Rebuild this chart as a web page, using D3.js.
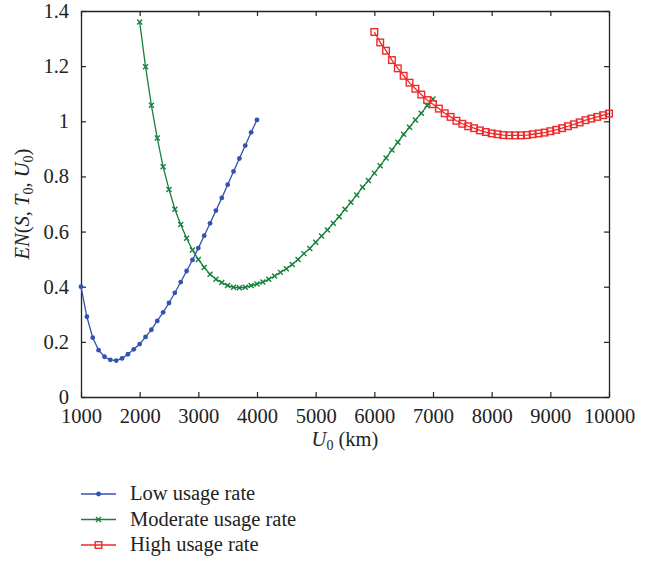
<!DOCTYPE html>
<html lang="en">
<head>
<meta charset="utf-8">
<title>EN chart</title>
<script src="https://cdn.jsdelivr.net/npm/d3@7"></script>
<style>
  body { margin: 0; background: #fff; }
  text { font-family: "Liberation Serif", "DejaVu Serif", serif; fill: #222; }
</style>
</head>
<body>
<script>
// values
var lowX = [1000, 1100, 1200, 1300, 1400, 1500, 1600, 1700, 1800, 1900, 2000, 2100, 2200, 2300, 2400, 2500,
            2600, 2700, 2800, 2900, 3000, 3100, 3200, 3300, 3400, 3500, 3600, 3700, 3800, 3900, 4000];
var lowY = [0.400, 0.291, 0.215, 0.170, 0.146, 0.135, 0.132, 0.140, 0.155, 0.173, 0.192, 0.218, 0.244, 0.276,
            0.307, 0.341, 0.378, 0.417, 0.457, 0.497, 0.540, 0.585, 0.630, 0.676, 0.722, 0.770, 0.818, 0.865,
            0.912, 0.960, 1.005];

var modX = [2000, 2100, 2200, 2300, 2400, 2500, 2600, 2700, 2800, 2900, 3000, 3100, 3200, 3300, 3400, 3500,
            3600, 3700, 3800, 3900, 4000, 4100, 4200, 4300, 4400, 4500, 4600, 4700, 4800, 4900, 5000, 5100,
            5200, 5300, 5400, 5500, 5600, 5700, 5800, 5900, 6000, 6100, 6200, 6300, 6400, 6500, 6600, 6700,
            6800, 6900, 7000];
var modY = [1.360, 1.198, 1.058, 0.939, 0.835, 0.753, 0.681, 0.626, 0.576, 0.533, 0.499, 0.470, 0.445, 0.427,
            0.415, 0.404, 0.398, 0.396, 0.398, 0.404, 0.410, 0.417, 0.427, 0.439, 0.452, 0.465, 0.481, 0.499,
            0.520, 0.539, 0.561, 0.584, 0.606, 0.630, 0.654, 0.681, 0.706, 0.733, 0.761, 0.785, 0.812, 0.839,
            0.867, 0.896, 0.924, 0.953, 0.978, 1.005, 1.029, 1.057, 1.081];

var highX = [6000, 6100, 6200, 6300, 6400, 6500, 6600, 6700, 6800, 6900, 7000, 7100, 7200, 7300, 7400, 7500,
             7600, 7700, 7800, 7900, 8000, 8100, 8200, 8300, 8400, 8500, 8600, 8700, 8800, 8900, 9000, 9100,
             9200, 9300, 9400, 9500, 9600, 9700, 9800, 9900, 10000];
var highY = [1.324, 1.286, 1.256, 1.222, 1.192, 1.165, 1.140, 1.118, 1.097, 1.077, 1.062, 1.046, 1.029, 1.016,
             1.002, 0.991, 0.982, 0.975, 0.967, 0.961, 0.956, 0.953, 0.950, 0.949, 0.949, 0.949, 0.950, 0.953,
             0.956, 0.959, 0.964, 0.969, 0.975, 0.982, 0.989, 0.996, 1.004, 1.010, 1.016, 1.022, 1.028];

var xTicks = [1000, 2000, 3000, 4000, 5000, 6000, 7000, 8000, 9000, 10000];
var yTicks = [0, 0.2, 0.4, 0.6, 0.8, 1, 1.2, 1.4];
var seriesNames = ["Low usage rate", "Moderate usage rate", "High usage rate"];

var w = 647, h = 563;
var padL = 81, padR = 609, padT = 11, padB = 397;
var fontSize = "20.5px";

var svg = d3.select("body").append("svg")
  .attr("width", w)
  .attr("height", h);

var xScale = d3.scaleLinear().domain([1000, 10000]).range([padL, padR]);
var yScale = d3.scaleLinear().domain([0, 1.4]).range([padB, padT]);

// axes, ticks pointing inwards on all four sides
var fmtY = function(d) { return d == 0 || d == 1 ? String(d) : d3.format(".1f")(d); };

var gB = svg.append("g").attr("transform", "translate(0," + padB + ")")
  .call(d3.axisBottom(xScale).tickValues(xTicks).tickFormat(d3.format("d")).tickSizeInner(-5).tickSizeOuter(0).tickPadding(11));
var gL = svg.append("g").attr("transform", "translate(" + padL + ",0)")
  .call(d3.axisLeft(yScale).tickValues(yTicks).tickFormat(fmtY).tickSizeInner(-5).tickSizeOuter(0).tickPadding(12));
var gT = svg.append("g").attr("transform", "translate(0," + padT + ")")
  .call(d3.axisTop(xScale).tickValues(xTicks).tickSizeInner(-5).tickSizeOuter(0).tickFormat(""));
var gR = svg.append("g").attr("transform", "translate(" + padR + ",0)")
  .call(d3.axisRight(yScale).tickValues(yTicks).tickSizeInner(-5).tickSizeOuter(0).tickFormat(""));

[gB, gL, gT, gR].forEach(function(g) {
  g.selectAll("path").attr("stroke", "#222").attr("stroke-width", 1.3);
  g.selectAll("line").attr("stroke", "#222").attr("stroke-width", 1.2);
  g.selectAll("text").style("font-family", "'Liberation Serif', serif").style("font-size", fontSize).attr("fill", "#222");
});

// axis titles
var yl = svg.append("text")
  .attr("transform", "translate(29,204) rotate(-90)")
  .attr("text-anchor", "middle")
  .style("font-size", fontSize);
yl.append("tspan").style("font-style", "italic").text("EN");
yl.append("tspan").text("(");
yl.append("tspan").style("font-style", "italic").text("S");
yl.append("tspan").text(", ");
yl.append("tspan").style("font-style", "italic").text("T");
yl.append("tspan").attr("dy", 4).style("font-size", "14px").text("0");
yl.append("tspan").attr("dy", -4).text(", ");
yl.append("tspan").style("font-style", "italic").text("U");
yl.append("tspan").attr("dy", 4).style("font-size", "14px").text("0");
yl.append("tspan").attr("dy", -4).text(")");

var xl = svg.append("text")
  .attr("x", 345)
  .attr("y", 446)
  .attr("text-anchor", "middle")
  .style("font-size", fontSize);
xl.append("tspan").style("font-style", "italic").text("U");
xl.append("tspan").attr("dy", 4).style("font-size", "14px").text("0");
xl.append("tspan").attr("dy", -4).text(" (km)");

// series
var colors = ["#3352ad", "#17803c", "#ee2a2a"];
var allSeries = [
  { x: lowX, y: lowY, color: colors[0], marker: "dot" },
  { x: modX, y: modY, color: colors[1], marker: "cross" },
  { x: highX, y: highY, color: colors[2], marker: "square" }
];

var line = d3.line()
  .x(function(d) { return xScale(d[0]); })
  .y(function(d) { return yScale(d[1]); });

function drawMarker(g, kind, color) {
  if (kind == "dot") {
    g.append("circle").attr("r", 2.4).attr("fill", color);
  } else if (kind == "cross") {
    g.append("path").attr("d", "M-2.5,-2.5L2.5,2.5M-2.5,2.5L2.5,-2.5")
      .attr("stroke", color).attr("stroke-width", 1.4).attr("fill", "none");
  } else {
    g.append("rect").attr("x", -3.3).attr("y", -3.3).attr("width", 6.6).attr("height", 6.6)
      .attr("fill", "none").attr("stroke", color).attr("stroke-width", 1.4);
  }
}

allSeries.forEach(function(s) {
  var pts = s.x.map(function(v, i) { return [v, s.y[i]]; });
  svg.append("path")
    .datum(pts)
    .attr("d", line)
    .attr("fill", "none")
    .attr("stroke", s.color)
    .attr("stroke-width", 1.3);
  svg.append("g").selectAll("g")
    .data(pts)
    .enter()
    .append("g")
    .attr("transform", function(d) { return "translate(" + xScale(d[0]) + "," + yScale(d[1]) + ")"; })
    .each(function() { drawMarker(d3.select(this), s.marker, s.color); });
});

// legend
var legend = svg.append("g");
seriesNames.forEach(function(name, i) {
  var yy = 494 + i * 25.5;
  legend.append("line")
    .attr("x1", 81).attr("x2", 116).attr("y1", yy).attr("y2", yy)
    .attr("stroke", allSeries[i].color).attr("stroke-width", 1.3);
  var m = legend.append("g").attr("transform", "translate(98.5," + yy + ")");
  drawMarker(m, allSeries[i].marker, allSeries[i].color);
  legend.append("text")
    .attr("x", 130)
    .attr("y", yy + 6)
    .style("font-size", fontSize)
    .text(name);
});
</script>
</body>
</html>
